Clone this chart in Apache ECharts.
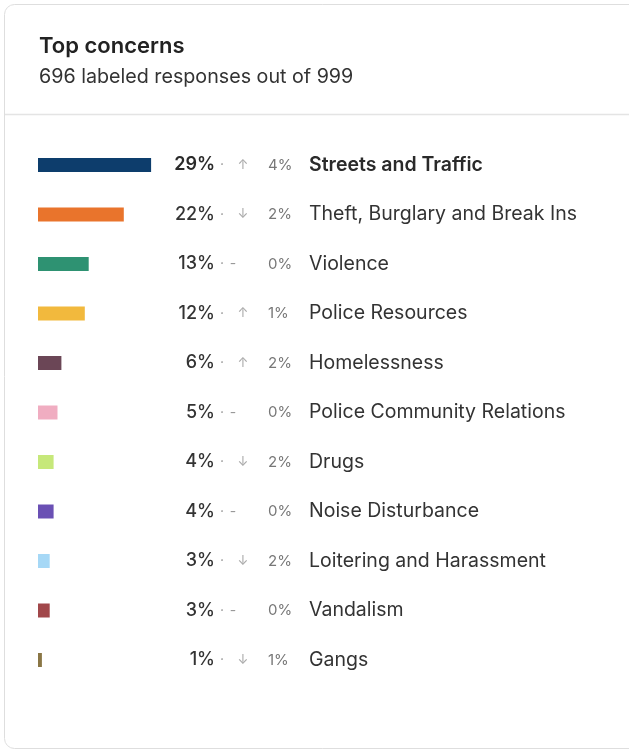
<!DOCTYPE html>
<html>
<head>
<meta charset="utf-8">
<script src="https://cdn.jsdelivr.net/npm/echarts@6/dist/echarts.min.js"></script>
<style>
  html, body { margin: 0; padding: 0; background: #fff; }
  #main { width: 629px; height: 753px; }
</style>
</head>
<body>
<div id="main"></div>
<script>
const categories = [
  'Streets and Traffic', 'Theft, Burglary and Break Ins', 'Violence', 'Police Resources',
  'Homelessness', 'Police Community Relations', 'Drugs', 'Noise Disturbance',
  'Loitering and Harassment', 'Vandalism', 'Gangs'
]
const shares = [29, 22, 13, 12, 6, 5, 4, 4, 3, 3, 1]
const trends = ['up', 'down', 'flat', 'up', 'up', 'flat', 'down', 'flat', 'down', 'flat', 'down']
const changes = [4, 2, 0, 1, 2, 0, 2, 0, 2, 0, 1]
const barColors = [
  '#0d3d6c', '#e9742c', '#2e9272', '#f2b93d', '#6b4656', '#f0adc1',
  '#c6e87a', '#6a50b4', '#a6d8f6', '#a1474a', '#8a7645'
]

const font = 'Inter, "Noto Sans", sans-serif'
const gridLeft = 38

// one hidden category axis per text column, shifted right with offset
function textAxis(x, align, formatter, style) {
  return {
    type: 'category',
    data: categories,
    inverse: true,
    position: 'left',
    offset: gridLeft - x,
    axisLine: { show: false },
    axisTick: { show: false },
    splitLine: { show: false },
    axisLabel: Object.assign({
      margin: 0,
      align: align,
      fontFamily: font,
      formatter: formatter
    }, style)
  }
}

const myChart = echarts.init(document.getElementById('main'))

const option = {
  animation: false,
  textStyle: { fontFamily: font },
  title: {
    text: 'Top concerns',
    subtext: '696 labeled responses out of 999',
    left: 34,
    top: 30,
    itemGap: 10,
    textStyle: { fontFamily: font, fontSize: 22, fontWeight: 600, color: '#222' },
    subtextStyle: { fontFamily: font, fontSize: 19.7, color: '#333' }
  },
  graphic: [
    {
      type: 'rect',
      z: -10,
      shape: { x: 4.5, y: 4.5, width: 640, height: 744, r: 10 },
      style: { fill: '#fff', stroke: '#dedede', lineWidth: 1 }
    },
    {
      type: 'line',
      z: -9,
      shape: { x1: 5, y1: 114.5, x2: 629, y2: 114.5 },
      style: { stroke: '#e4e4e4', lineWidth: 1.5 }
    }
  ],
  grid: { left: gridLeft, top: 140.25, width: 390, height: 544.5 },
  xAxis: {
    type: 'value',
    min: 0,
    max: 100,
    show: false
  },
  yAxis: [
    {
      type: 'category',
      data: categories,
      inverse: true,
      axisLine: { show: false },
      axisTick: { show: false },
      axisLabel: { show: false }
    },
    // share
    textAxis(215, 'right', (v, i) => (i === 0 ? '{b|' : '{n|') + shares[i] + '%}', {
      rich: {
        b: { fontFamily: font, fontSize: 18, fontWeight: 600, color: '#2a2a2a' },
        n: { fontFamily: font, fontSize: 18, fontWeight: 500, color: '#333' }
      }
    }),
    // separator dot
    textAxis(222, 'center', () => '·', { fontSize: 14, color: '#999' }),
    // arrows
    textAxis(243, 'center', (v, i) => trends[i] === 'up' ? '↑' : trends[i] === 'down' ? '↓' : '',
      { fontSize: 13, color: '#aaa' }),
    // flat dash
    textAxis(233, 'center', (v, i) => trends[i] === 'flat' ? '-' : '', { fontSize: 14, color: '#999' }),
    // change
    textAxis(268, 'left', (v, i) => changes[i] + '%', { fontSize: 15, color: '#777' }),
    // name
    textAxis(309, 'left', (v, i) => (i === 0 ? '{b|' : '{n|') + categories[i] + '}', {
      rich: {
        b: { fontFamily: font, fontSize: 19.5, fontWeight: 600, color: '#2a2a2a' },
        n: { fontFamily: font, fontSize: 19.5, color: '#333' }
      }
    })
  ],
  series: [
    {
      type: 'bar',
      yAxisIndex: 0,
      data: shares.map((v, i) => ({ value: v, itemStyle: { color: barColors[i] } })),
      barWidth: 14,
      silent: true
    }
  ]
}

myChart.setOption(option)
window.onresize = function () {
  myChart.resize()
}
</script>
</body>
</html>
